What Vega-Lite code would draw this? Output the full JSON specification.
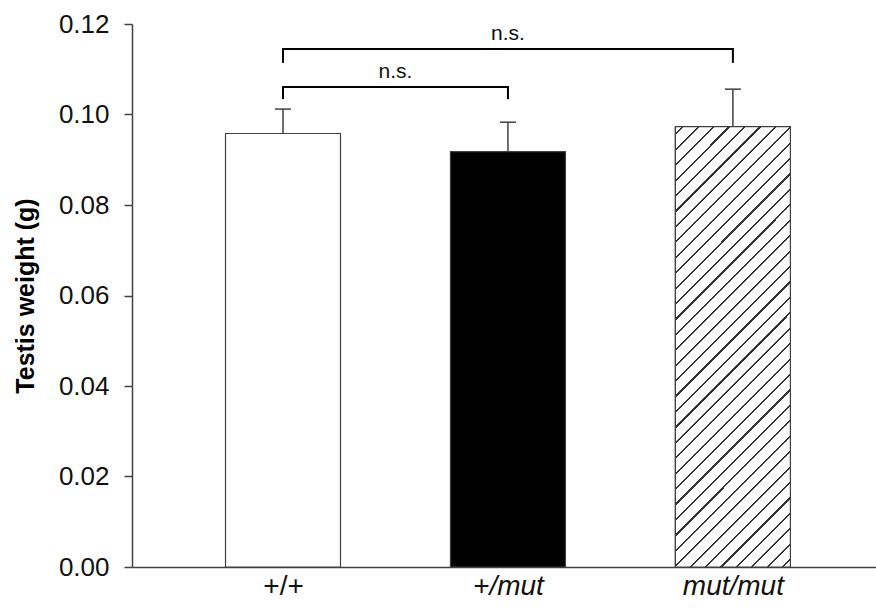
{
  "$schema": "https://vega.github.io/schema/vega-lite/v6.json",
  "width": 744,
  "height": 543,
  "autosize": {"type": "none"},
  "padding": {"left": 132, "top": 24, "right": 0, "bottom": 42},
  "background": "white",
  "config": {"view": {"stroke": null}, "font": "Liberation Sans"},
  "datasets": {
    "bars": [
      {"genotype": "+/+", "pos": 1, "mean": 0.0958, "upper": 0.1012},
      {"genotype": "+/mut", "pos": 2, "mean": 0.0918, "upper": 0.0983},
      {"genotype": "mut/mut", "pos": 3, "mean": 0.0973, "upper": 0.1056}
    ],
    "brackets": [
      {"from": 1, "to": 2, "mid": 1.5, "top": 0.1061, "bottom": 0.1034, "label": "n.s."},
      {"from": 1, "to": 3, "mid": 2, "top": 0.1145, "bottom": 0.1114, "label": "n.s."}
    ]
  },
  "layer": [
    {
      "data": {"name": "bars"},
      "mark": {"type": "bar", "width": 115, "stroke": "#404040", "strokeWidth": 1.2},
      "encoding": {
        "x": {
          "field": "pos", "type": "quantitative",
          "scale": {"domain": [0.3509, 3.614], "nice": false, "zero": false},
          "axis": {
            "title": null, "values": [1, 2, 3], "grid": false, "ticks": false,
            "labelExpr": "datum.value == 1 ? '+/+' : datum.value == 2 ? '+/mut' : 'mut/mut'",
            "labelFontSize": 28, "labelColor": "#111111", "labelPadding": 5,
            "labelFontStyle": {"condition": {"test": "datum.value != 1", "value": "italic"}, "value": "normal"},
            "domainColor": "#404040", "domainWidth": 1.5
          }
        },
        "y": {
          "field": "mean", "type": "quantitative",
          "scale": {"domain": [0, 0.12], "nice": false},
          "axis": {
            "title": "Testis weight (g)", "titleFontSize": 25, "titleFontWeight": "bold",
            "titleColor": "#000000", "titlePadding": 20,
            "values": [0, 0.02, 0.04, 0.06, 0.08, 0.1, 0.12], "format": ".2f",
            "grid": false, "tickSize": 8, "tickColor": "#404040", "tickWidth": 1.5,
            "labelFontSize": 26, "labelColor": "#111111", "labelPadding": 15,
            "domainColor": "#404040", "domainWidth": 1.5
          }
        },
        "fill": {
          "condition": {"test": "datum.genotype == '+/+'", "value": "#ffffff"},
          "value": "#000000"
        }
      }
    },
    {
      "data": {"name": "bars"},
      "transform": [{"filter": "datum.genotype == 'mut/mut'"}],
      "mark": {
        "type": "bar", "width": 115, "stroke": "#404040", "strokeWidth": 1.2,
        "fill": {
          "gradient": "linear", "x1": 0, "y1": 0, "x2": 0.3086, "y2": 1.1806,
          "stops": [
            {"offset": 0, "color": "#ffffff"},
            {"offset": 0.012, "color": "#ffffff"}, {"offset": 0.012, "color": "#333333"}, {"offset": 0.016, "color": "#333333"}, {"offset": 0.016, "color": "#ffffff"},
            {"offset": 0.0398, "color": "#ffffff"}, {"offset": 0.0398, "color": "#333333"}, {"offset": 0.0438, "color": "#333333"}, {"offset": 0.0438, "color": "#ffffff"},
            {"offset": 0.0676, "color": "#ffffff"}, {"offset": 0.0676, "color": "#333333"}, {"offset": 0.0716, "color": "#333333"}, {"offset": 0.0716, "color": "#ffffff"},
            {"offset": 0.0953, "color": "#ffffff"}, {"offset": 0.0953, "color": "#333333"}, {"offset": 0.0993, "color": "#333333"}, {"offset": 0.0993, "color": "#ffffff"},
            {"offset": 0.1231, "color": "#ffffff"}, {"offset": 0.1231, "color": "#333333"}, {"offset": 0.1271, "color": "#333333"}, {"offset": 0.1271, "color": "#ffffff"},
            {"offset": 0.1509, "color": "#ffffff"}, {"offset": 0.1509, "color": "#333333"}, {"offset": 0.1549, "color": "#333333"}, {"offset": 0.1549, "color": "#ffffff"},
            {"offset": 0.1787, "color": "#ffffff"}, {"offset": 0.1787, "color": "#333333"}, {"offset": 0.1827, "color": "#333333"}, {"offset": 0.1827, "color": "#ffffff"},
            {"offset": 0.2064, "color": "#ffffff"}, {"offset": 0.2064, "color": "#333333"}, {"offset": 0.2104, "color": "#333333"}, {"offset": 0.2104, "color": "#ffffff"},
            {"offset": 0.2342, "color": "#ffffff"}, {"offset": 0.2342, "color": "#333333"}, {"offset": 0.2382, "color": "#333333"}, {"offset": 0.2382, "color": "#ffffff"},
            {"offset": 0.262, "color": "#ffffff"}, {"offset": 0.262, "color": "#333333"}, {"offset": 0.266, "color": "#333333"}, {"offset": 0.266, "color": "#ffffff"},
            {"offset": 0.2898, "color": "#ffffff"}, {"offset": 0.2898, "color": "#333333"}, {"offset": 0.2938, "color": "#333333"}, {"offset": 0.2938, "color": "#ffffff"},
            {"offset": 0.3176, "color": "#ffffff"}, {"offset": 0.3176, "color": "#333333"}, {"offset": 0.3216, "color": "#333333"}, {"offset": 0.3216, "color": "#ffffff"},
            {"offset": 0.3453, "color": "#ffffff"}, {"offset": 0.3453, "color": "#333333"}, {"offset": 0.3493, "color": "#333333"}, {"offset": 0.3493, "color": "#ffffff"},
            {"offset": 0.3731, "color": "#ffffff"}, {"offset": 0.3731, "color": "#333333"}, {"offset": 0.3771, "color": "#333333"}, {"offset": 0.3771, "color": "#ffffff"},
            {"offset": 0.4009, "color": "#ffffff"}, {"offset": 0.4009, "color": "#333333"}, {"offset": 0.4049, "color": "#333333"}, {"offset": 0.4049, "color": "#ffffff"},
            {"offset": 0.4287, "color": "#ffffff"}, {"offset": 0.4287, "color": "#333333"}, {"offset": 0.4327, "color": "#333333"}, {"offset": 0.4327, "color": "#ffffff"},
            {"offset": 0.4564, "color": "#ffffff"}, {"offset": 0.4564, "color": "#333333"}, {"offset": 0.4604, "color": "#333333"}, {"offset": 0.4604, "color": "#ffffff"},
            {"offset": 0.4842, "color": "#ffffff"}, {"offset": 0.4842, "color": "#333333"}, {"offset": 0.4882, "color": "#333333"}, {"offset": 0.4882, "color": "#ffffff"},
            {"offset": 0.512, "color": "#ffffff"}, {"offset": 0.512, "color": "#333333"}, {"offset": 0.516, "color": "#333333"}, {"offset": 0.516, "color": "#ffffff"},
            {"offset": 0.5398, "color": "#ffffff"}, {"offset": 0.5398, "color": "#333333"}, {"offset": 0.5438, "color": "#333333"}, {"offset": 0.5438, "color": "#ffffff"},
            {"offset": 0.5676, "color": "#ffffff"}, {"offset": 0.5676, "color": "#333333"}, {"offset": 0.5716, "color": "#333333"}, {"offset": 0.5716, "color": "#ffffff"},
            {"offset": 0.5953, "color": "#ffffff"}, {"offset": 0.5953, "color": "#333333"}, {"offset": 0.5993, "color": "#333333"}, {"offset": 0.5993, "color": "#ffffff"},
            {"offset": 0.6231, "color": "#ffffff"}, {"offset": 0.6231, "color": "#333333"}, {"offset": 0.6271, "color": "#333333"}, {"offset": 0.6271, "color": "#ffffff"},
            {"offset": 0.6509, "color": "#ffffff"}, {"offset": 0.6509, "color": "#333333"}, {"offset": 0.6549, "color": "#333333"}, {"offset": 0.6549, "color": "#ffffff"},
            {"offset": 0.6787, "color": "#ffffff"}, {"offset": 0.6787, "color": "#333333"}, {"offset": 0.6827, "color": "#333333"}, {"offset": 0.6827, "color": "#ffffff"},
            {"offset": 0.7064, "color": "#ffffff"}, {"offset": 0.7064, "color": "#333333"}, {"offset": 0.7104, "color": "#333333"}, {"offset": 0.7104, "color": "#ffffff"},
            {"offset": 0.7342, "color": "#ffffff"}, {"offset": 0.7342, "color": "#333333"}, {"offset": 0.7382, "color": "#333333"}, {"offset": 0.7382, "color": "#ffffff"},
            {"offset": 0.762, "color": "#ffffff"}, {"offset": 0.762, "color": "#333333"}, {"offset": 0.766, "color": "#333333"}, {"offset": 0.766, "color": "#ffffff"},
            {"offset": 0.7898, "color": "#ffffff"}, {"offset": 0.7898, "color": "#333333"}, {"offset": 0.7938, "color": "#333333"}, {"offset": 0.7938, "color": "#ffffff"},
            {"offset": 0.8176, "color": "#ffffff"}, {"offset": 0.8176, "color": "#333333"}, {"offset": 0.8216, "color": "#333333"}, {"offset": 0.8216, "color": "#ffffff"},
            {"offset": 0.8453, "color": "#ffffff"}, {"offset": 0.8453, "color": "#333333"}, {"offset": 0.8493, "color": "#333333"}, {"offset": 0.8493, "color": "#ffffff"},
            {"offset": 0.8731, "color": "#ffffff"}, {"offset": 0.8731, "color": "#333333"}, {"offset": 0.8771, "color": "#333333"}, {"offset": 0.8771, "color": "#ffffff"},
            {"offset": 0.9009, "color": "#ffffff"}, {"offset": 0.9009, "color": "#333333"}, {"offset": 0.9049, "color": "#333333"}, {"offset": 0.9049, "color": "#ffffff"},
            {"offset": 0.9287, "color": "#ffffff"}, {"offset": 0.9287, "color": "#333333"}, {"offset": 0.9327, "color": "#333333"}, {"offset": 0.9327, "color": "#ffffff"},
            {"offset": 0.9564, "color": "#ffffff"}, {"offset": 0.9564, "color": "#333333"}, {"offset": 0.9604, "color": "#333333"}, {"offset": 0.9604, "color": "#ffffff"},
            {"offset": 0.9842, "color": "#ffffff"}, {"offset": 0.9842, "color": "#333333"}, {"offset": 0.9882, "color": "#333333"}, {"offset": 0.9882, "color": "#ffffff"},
            {"offset": 1, "color": "#ffffff"}
          ]
        }
      },
      "encoding": {
        "x": {"field": "pos", "type": "quantitative", "scale": {"domain": [0.3509, 3.614], "nice": false, "zero": false}},
        "y": {"field": "mean", "type": "quantitative", "scale": {"domain": [0, 0.12], "nice": false}}
      }
    },
    {
      "data": {"name": "bars"},
      "mark": {"type": "rule", "color": "#404040", "strokeWidth": 1.5},
      "encoding": {
        "x": {"field": "pos", "type": "quantitative", "scale": {"domain": [0.3509, 3.614], "nice": false, "zero": false}},
        "y": {"field": "mean", "type": "quantitative", "scale": {"domain": [0, 0.12], "nice": false}},
        "y2": {"field": "upper"}
      }
    },
    {
      "data": {"name": "bars"},
      "mark": {"type": "tick", "orient": "horizontal", "size": 16, "thickness": 1.5, "color": "#404040", "opacity": 1},
      "encoding": {
        "x": {"field": "pos", "type": "quantitative", "scale": {"domain": [0.3509, 3.614], "nice": false, "zero": false}},
        "y": {"field": "upper", "type": "quantitative", "scale": {"domain": [0, 0.12], "nice": false}}
      }
    },
    {
      "data": {"name": "brackets"},
      "mark": {"type": "rule", "color": "#000000", "strokeWidth": 2, "strokeCap": "square"},
      "encoding": {
        "x": {"field": "from", "type": "quantitative", "scale": {"domain": [0.3509, 3.614], "nice": false, "zero": false}},
        "x2": {"field": "to"},
        "y": {"field": "top", "type": "quantitative", "scale": {"domain": [0, 0.12], "nice": false}}
      }
    },
    {
      "data": {"name": "brackets"},
      "mark": {"type": "rule", "color": "#000000", "strokeWidth": 2},
      "encoding": {
        "x": {"field": "from", "type": "quantitative", "scale": {"domain": [0.3509, 3.614], "nice": false, "zero": false}},
        "y": {"field": "top", "type": "quantitative", "scale": {"domain": [0, 0.12], "nice": false}},
        "y2": {"field": "bottom"}
      }
    },
    {
      "data": {"name": "brackets"},
      "mark": {"type": "rule", "color": "#000000", "strokeWidth": 2},
      "encoding": {
        "x": {"field": "to", "type": "quantitative", "scale": {"domain": [0.3509, 3.614], "nice": false, "zero": false}},
        "y": {"field": "top", "type": "quantitative", "scale": {"domain": [0, 0.12], "nice": false}},
        "y2": {"field": "bottom"}
      }
    },
    {
      "data": {"name": "brackets"},
      "mark": {"type": "text", "fontSize": 21, "color": "#111111", "baseline": "alphabetic", "dy": -9},
      "encoding": {
        "x": {"field": "mid", "type": "quantitative", "scale": {"domain": [0.3509, 3.614], "nice": false, "zero": false}},
        "y": {"field": "top", "type": "quantitative", "scale": {"domain": [0, 0.12], "nice": false}},
        "text": {"field": "label"}
      }
    }
  ]
}
